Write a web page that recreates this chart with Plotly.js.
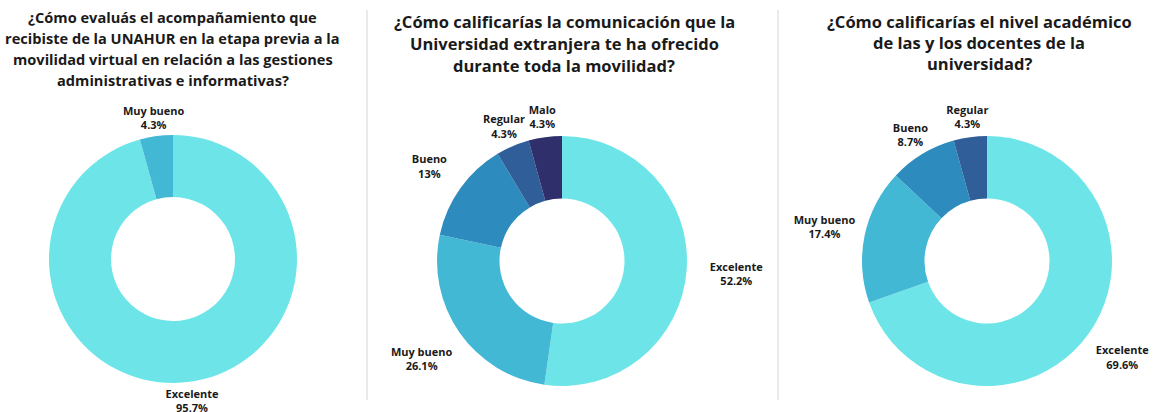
<!DOCTYPE html>
<html>
<head>
<meta charset="utf-8">
<script src="https://cdn.plot.ly/plotly-3.0.1.min.js"></script>
<style>html,body{margin:0;padding:0;background:#fff;overflow:hidden;}#wrap{width:1163px;height:412px;overflow:hidden;position:relative;}#chart{position:absolute;left:-50px;top:0;}</style>
</head>
<body>
<div id="wrap"><div id="chart"></div></div>
<script>
// ---- data ----
const title1 = ["¿Cómo evaluás el acompañamiento que", "recibiste de la UNAHUR en la etapa previa a la", "movilidad virtual en relación a las gestiones", "administrativas e informativas?"];
const labels1 = ["Excelente", "Muy bueno"];
const values1 = [95.7, 4.3];

const title2 = ["¿Cómo calificarías la comunicación que la", "Universidad extranjera te ha ofrecido", "durante toda la movilidad?"];
const labels2 = ["Excelente", "Muy bueno", "Bueno", "Regular", "Malo"];
const values2 = [52.2, 26.1, 13, 4.3, 4.3];

const title3 = ["¿Cómo calificarías el nivel académico", "de las y los docentes de la", "universidad?"];
const labels3 = ["Excelente", "Muy bueno", "Bueno", "Regular"];
const values3 = [69.6, 17.4, 8.7, 4.3];

const colorMap = {
  "Excelente": "#6de5e8",
  "Muy bueno": "#42b8d5",
  "Bueno": "#2d8bbd",
  "Regular": "#2f5e98",
  "Malo": "#2f306b"
};

// ---- layout helpers ----
// The plot is a little larger than the 1163x412 window (PAD px hidden on the left,
// extra strip hidden at the right/bottom) so the invisible label rings fit in their domains.
const PAD = 50;
const W = 1163 + 2 * PAD, H = 480;
function dom(cx, cy, r) {
  return {x: [(cx + PAD - r) / W, (cx + PAD + r) / W], y: [(H - cy - r) / H, (H - cy + r) / H]};
}
const FONT = "Open Sans, Noto Sans, DejaVu Sans, sans-serif";
const TXT = "#1a1a1a";

function donut(labels, values, cx, cy, r) {
  return {
    type: "pie", labels: labels, values: values, hole: 0.5, sort: false,
    direction: "clockwise", rotation: 0,
    domain: dom(cx, cy, r),
    marker: {colors: labels.map(l => colorMap[l]), line: {width: 0}},
    textinfo: "none", hoverinfo: "label+value", showlegend: false
  };
}
// invisible ring carrying one category's label, centred on the slice's mid-angle
// at distance labelR from the donut centre
function labelRing(labels, values, show, cx, cy, labelR, hole) {
  const R = labelR / (1 - (1 - hole) / 2);
  return {
    type: "pie", labels: labels, values: values, hole: hole, sort: false,
    direction: "clockwise", rotation: 0,
    domain: dom(cx, cy, R),
    marker: {colors: labels.map(() => "rgba(0,0,0,0)"), line: {width: 0}},
    textposition: labels.map(l => l === show ? "inside" : "none"),
    insidetextorientation: "horizontal",
    texttemplate: "<b>%{label}</b><br><b>%{value}%</b>",
    insidetextfont: {family: FONT, size: 11, color: TXT},
    hoverinfo: "skip", showlegend: false
  };
}

// label distance from centre and ring hole (wide ring for big slices, thin ring for small ones)
const P1 = {cx: 173, cy: 259, r: 124, lab: {"Excelente": [143, 0.6], "Muy bueno": [143, 0.96]}};
const P2 = {cx: 562, cy: 261, r: 125, lab: {"Excelente": [175, 0.6], "Muy bueno": [171, 0.6], "Bueno": [163, 0.96], "Regular": [147, 0.96], "Malo": [146, 0.96]}};
const P3 = {cx: 987, cy: 261, r: 125, lab: {"Excelente": [166, 0.6], "Muy bueno": [166, 0.6], "Bueno": [148, 0.96], "Regular": [146, 0.96]}};

const data = [
  donut(labels1, values1, P1.cx, P1.cy, P1.r),
  donut(labels2, values2, P2.cx, P2.cy, P2.r),
  donut(labels3, values3, P3.cx, P3.cy, P3.r)
];
[[labels1, values1, P1], [labels2, values2, P2], [labels3, values3, P3]].forEach(([lab, val, P]) => {
  lab.forEach(l => data.push(labelRing(lab, val, l, P.cx, P.cy, P.lab[l][0], P.lab[l][1])));
});

function titleAnns(lines, x, y0, dy, size) {
  return lines.map((t, i) => ({text: "<b>" + t + "</b>", x: (x + PAD) / W, y: 1 - (y0 + i * dy) / H,
    xref: "paper", yref: "paper", xanchor: "center", yanchor: "middle",
    showarrow: false, align: "center",
    font: {family: FONT, size: size, color: TXT}}));
}
function vline(x) {
  return {type: "line", xref: "paper", yref: "paper", x0: (x + PAD) / W, x1: (x + PAD) / W,
    y0: 1 - 10 / H, y1: 1 - 400 / H, line: {color: "#e3e3e3", width: 1.5}};
}

const layout = {
  width: W, height: H, margin: {l: 0, r: 0, t: 0, b: 0},
  paper_bgcolor: "#fff", plot_bgcolor: "#fff",
  showlegend: false,
  uniformtext: {minsize: 11, mode: "show"},
  annotations: [].concat(
    titleAnns(title1, 173, 17, 21.1, 14.6),
    titleAnns(title2, 564, 22, 21.6, 16.5),
    titleAnns(title3, 979, 22, 20.8, 16.5)
  ),
  shapes: [vline(367), vline(778)]
};

Plotly.newPlot("chart", data, layout, {displayModeBar: false, staticPlot: true});
</script>
</body>
</html>
